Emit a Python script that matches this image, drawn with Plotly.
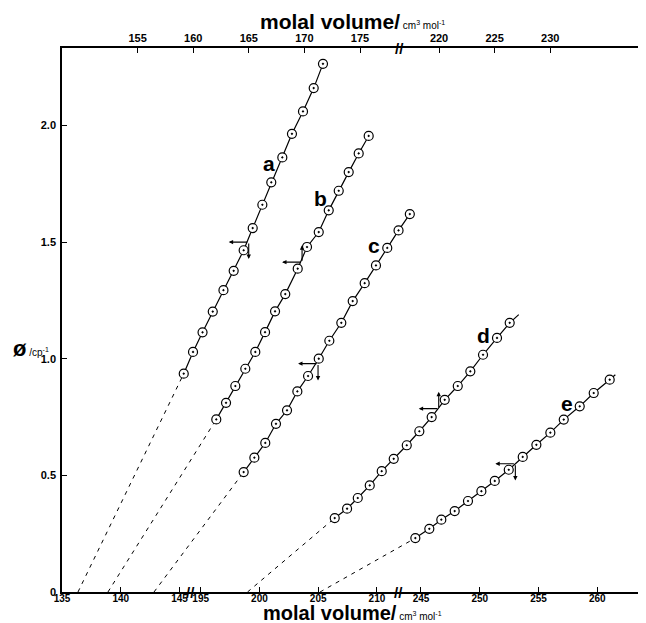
import plotly.graph_objects as go

# ---------------- axis labels (molal volume / cm3 mol-1, broken axes) ----------------
bottom_ticks_1 = [135, 140, 145]
bottom_ticks_2 = [195, 200, 205, 210]
bottom_ticks_3 = [245, 250, 255, 260]
bottom_offsets = [0.0, 48.2, 79.45]          # axis-break compression of the bottom scale
top_ticks_1 = [155, 160, 165, 170, 175]
top_ticks_2 = [220, 225, 230]
top_offsets = [0.0, 37.89]
phi_ticks = [0, 0.5, 1.0, 1.5, 2.0]
phi_tick_text = ["0", "0.5", "1.0", "1.5", "2.0"]

# ---------------- data: x on compressed bottom scale, phi in cP^-1 ----------------
a_x = [145.36, 146.15, 146.96, 147.83, 148.74, 149.61, 150.46, 151.23, 152.05, 152.81,
       153.75, 154.57, 155.51, 156.42, 157.21]
a_phi = [0.936, 1.029, 1.113, 1.202, 1.294, 1.377, 1.465, 1.560, 1.660, 1.756,
         1.863, 1.964, 2.060, 2.160, 2.264]
a_x0 = 136.36

b_x = [148.13, 148.96, 149.75, 150.60, 151.45, 152.28, 153.13, 154.00, 155.06, 155.85,
       156.85, 157.70, 158.55, 159.40, 160.25, 161.10]
b_phi = [0.740, 0.811, 0.883, 0.957, 1.029, 1.114, 1.203, 1.277, 1.386, 1.479,
         1.543, 1.636, 1.720, 1.800, 1.880, 1.955]
b_x0 = 138.91

c_x = [150.46, 151.37, 152.30, 153.21, 154.15, 155.03, 155.94, 156.85, 157.75, 158.77,
       159.74, 160.76, 161.72, 162.68, 163.64, 164.60]
c_phi = [0.514, 0.576, 0.639, 0.721, 0.779, 0.860, 0.926, 1.000, 1.077, 1.154,
         1.247, 1.324, 1.400, 1.475, 1.550, 1.620]
c_x0 = 142.83

d_x = [158.21, 159.26, 160.17, 161.19, 162.21, 163.23, 164.34, 165.41, 166.46, 167.57,
       168.68, 169.75, 170.83, 172.02, 173.10]
d_phi = [0.317, 0.357, 0.403, 0.457, 0.518, 0.571, 0.629, 0.689, 0.750, 0.824,
         0.883, 0.946, 1.017, 1.089, 1.154]
d_x0 = 150.79
d_end = (173.87, 1.189)

e_x = [165.07, 166.26, 167.28, 168.42, 169.55, 170.69, 171.83, 173.02, 174.21, 175.37,
       176.56, 177.70, 179.06, 180.25, 181.61]
e_phi = [0.231, 0.271, 0.310, 0.347, 0.390, 0.432, 0.476, 0.524, 0.579, 0.631,
         0.683, 0.739, 0.796, 0.853, 0.910]
e_x0 = 156.96
e_end = (182.09, 0.931)

curve_names = ["a", "b", "c", "d", "e"]
label_x = [152.59, 156.98, 161.55, 170.89, 177.98]
label_phi = [1.836, 1.686, 1.487, 1.100, 0.807]

# transition markers (corner of the arrow pairs) and direction of the vertical arrow
arrow_x = [150.89, 155.43, 156.79, 167.06, 173.58]
arrow_phi = [1.500, 1.414, 0.979, 0.786, 0.550]
arrow_vdir = [-1, 1, -1, 1, -1]

# ---------------- figure ----------------
X_RANGE = [135.0, 184.87]
Y_RANGE = [0.0, 2.332]
TOP_RANGE = [148.20, 200.90]
FONT = "Liberation Sans"

fig = go.Figure()

curves = [
    (a_x, a_phi, a_x0, None),
    (b_x, b_phi, b_x0, None),
    (c_x, c_phi, c_x0, None),
    (d_x, d_phi, d_x0, d_end),
    (e_x, e_phi, e_x0, e_end),
]

for xs, ps, x0, end in curves:
    # dashed extrapolation to phi = 0
    fig.add_trace(go.Scatter(x=[x0, xs[0]], y=[0, ps[0]], mode="lines",
                             line=dict(color="black", width=1, dash="4px,5px"),
                             hoverinfo="skip", showlegend=False))
    lx = list(xs) + ([end[0]] if end else [])
    ly = list(ps) + ([end[1]] if end else [])
    fig.add_trace(go.Scatter(x=lx, y=ly, mode="lines",
                             line=dict(color="black", width=1.2),
                             hoverinfo="skip", showlegend=False))
    fig.add_trace(go.Scatter(x=xs, y=ps, mode="markers",
                             marker=dict(symbol="circle-dot", size=9, color="white",
                                         line=dict(color="black", width=1.2)),
                             showlegend=False))

# invisible trace to activate top axis
fig.add_trace(go.Scatter(x=TOP_RANGE, y=Y_RANGE, xaxis="x2", mode="markers",
                         marker=dict(opacity=0), hoverinfo="skip", showlegend=False))

annotations = []
for name, lx, lp in zip(curve_names, label_x, label_phi):
    annotations.append(dict(x=lx, y=lp, xref="x", yref="y", text="<b>%s</b>" % name,
                            showarrow=False, font=dict(size=21, color="black", family=FONT)))

H_LEN = 1.7     # horizontal arrow length (x units)
V_LEN = 0.072   # vertical arrow length (phi units)
for ax_, ap, vd in zip(arrow_x, arrow_phi, arrow_vdir):
    annotations.append(dict(x=ax_ - H_LEN, y=ap, ax=ax_, ay=ap, xref="x", yref="y",
                            axref="x", ayref="y", text="", showarrow=True,
                            arrowhead=2, arrowsize=0.8, arrowwidth=1.1, arrowcolor="black"))
    annotations.append(dict(x=ax_, y=ap + vd * V_LEN, ax=ax_, ay=ap, xref="x", yref="y",
                            axref="x", ayref="y", text="", showarrow=True,
                            arrowhead=2, arrowsize=0.8, arrowwidth=1.1, arrowcolor="black"))

title_text = ("<b>molal volume/</b><span style='font-size:10px'> cm<sup>3</sup> "
              "mol<sup>-1</sup></span>")
annotations.append(dict(x=0.495, y=1.049, xref="paper", yref="paper", text=title_text,
                        xanchor="center", yanchor="middle", showarrow=False,
                        font=dict(size=21, color="black", family=FONT)))
annotations.append(dict(x=0.495, y=-0.039, xref="paper", yref="paper", text=title_text,
                        xanchor="center", yanchor="middle", showarrow=False,
                        font=dict(size=20, color="black", family=FONT)))
annotations.append(dict(x=-0.087, y=0.448, xref="paper", yref="paper",
                        text="<b>ø</b><span style='font-size:10px'> /cp<sup>-1</sup></span>",
                        xanchor="left", yanchor="middle", showarrow=False,
                        font=dict(size=22, color="black", family=FONT)))

# axis break marks
bottom_breaks = [((bottom_ticks_1[-1] - bottom_offsets[0]) + (bottom_ticks_2[0] - bottom_offsets[1])) / 2,
                 ((bottom_ticks_2[-1] - bottom_offsets[1]) + (bottom_ticks_3[0] - bottom_offsets[2])) / 2]
for bx in bottom_breaks:
    annotations.append(dict(x=bx, y=0, xref="x", yref="y", text="<b>//</b>",
                            xanchor="center", yanchor="middle",
                            showarrow=False, font=dict(size=15, color="black", family=FONT)))
top_break = ((top_ticks_1[-1] - top_offsets[0]) + (top_ticks_2[0] - top_offsets[1])) / 2
annotations.append(dict(x=top_break, y=Y_RANGE[1], xref="x2", yref="y", text="<b>//</b>",
                        xanchor="center", yanchor="middle",
                        showarrow=False, font=dict(size=15, color="black", family=FONT)))

bottom_vals, bottom_text = [], []
for ticks, off in zip([bottom_ticks_1, bottom_ticks_2, bottom_ticks_3], bottom_offsets):
    for t in ticks:
        bottom_vals.append(t - off)
        bottom_text.append(str(t))
top_vals, top_text = [], []
for ticks, off in zip([top_ticks_1, top_ticks_2], top_offsets):
    for t in ticks:
        top_vals.append(t - off)
        top_text.append(str(t))

tick_font = dict(size=11, color="black", family=FONT, weight="bold")
bottom_tick_font = dict(size=10, color="black", family=FONT, weight="bold")
axis_common = dict(ticks="inside", ticklen=5, tickwidth=1.2, tickcolor="black",
                   showline=True, linecolor="black", linewidth=1.6, showgrid=False,
                   zeroline=False, automargin=False)

# the page body adds a small margin, so the figure is slightly smaller than the window
fig.update_layout(
    width=640, height=617, autosize=False,
    margin=dict(l=54, r=0, t=40, b=33, pad=0),
    plot_bgcolor="white", paper_bgcolor="white",
    showlegend=False,
    annotations=annotations,
    xaxis=dict(range=X_RANGE, tickvals=bottom_vals, ticktext=bottom_text,
               ticklabelstandoff=-4, tickfont=bottom_tick_font, **axis_common),
    xaxis2=dict(range=TOP_RANGE, overlaying="x", side="top", tickvals=top_vals,
                ticktext=top_text, tickfont=tick_font, **axis_common),
    yaxis=dict(range=Y_RANGE, tickvals=phi_ticks, ticktext=phi_tick_text,
               tickfont=tick_font, ticklabelstandoff=2, **axis_common),
)

fig.write_html("out.html")
